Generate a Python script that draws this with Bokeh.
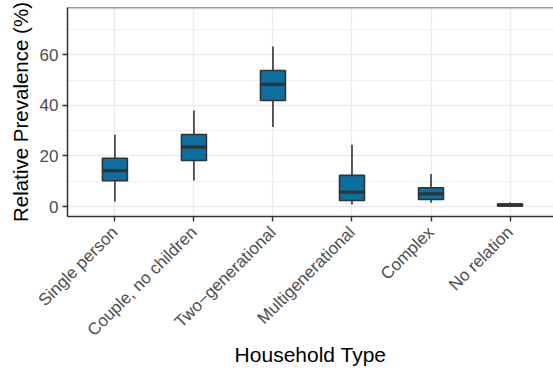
from bokeh.plotting import figure
from bokeh.models import Range1d, FixedTicker, Span
from bokeh.embed import file_html
from bokeh.resources import INLINE
import math

# Household types and box-plot statistics of relative prevalence (%)
categories = ["Single person", "Couple, no children", "Two\u2212generational",
              "Multigenerational", "Complex", "No relation"]
whisker_low = [2.0, 10.3, 31.4, 0.8, 1.5, 0.0]
q1 = [10.2, 18.2, 41.9, 2.4, 2.8, 0.2]
median = [14.2, 23.5, 48.3, 5.7, 5.0, 0.6]
q3 = [19.1, 28.5, 53.8, 12.3, 7.4, 1.0]
whisker_high = [28.4, 38.0, 63.3, 24.4, 12.9, 1.6]
y_ticks = [0, 20, 40, 60]
y_minor = [10, 30, 50, 70]

FONT = "Liberation Sans"
BORDER = "#333333"
FILL = "#0b6f9f"
GRID = "#ebebeb"
BOX_W = 0.316

xs = list(range(1, len(categories) + 1))
y_start, y_end = -3.95, 78.7

p = figure(width=553, height=371, output_backend="svg", toolbar_location=None,
           x_range=Range1d(0.4, 6.55), y_range=Range1d(y_start, y_end),
           min_border_left=67, min_border_right=0, min_border_top=7,
           min_border_bottom=155)
p.outline_line_color = None
p.background_fill_color = "white"
p.border_fill_color = "white"

# grids
p.xgrid.ticker = FixedTicker(ticks=xs)
p.xgrid.grid_line_color = GRID
p.xgrid.grid_line_width = 1.4
p.ygrid.ticker = FixedTicker(ticks=y_ticks, minor_ticks=y_minor)
p.ygrid.grid_line_color = GRID
p.ygrid.grid_line_width = 1.4
p.ygrid.minor_grid_line_color = GRID
p.ygrid.minor_grid_line_width = 0.8

# axes
p.xaxis.ticker = FixedTicker(ticks=xs)
p.xaxis.major_label_overrides = {x: c for x, c in zip(xs, categories)}
p.xaxis.major_label_orientation = math.pi / 4
p.yaxis.ticker = FixedTicker(ticks=y_ticks, minor_ticks=[])
p.xaxis.axis_label = "Household Type"
p.yaxis.axis_label = "Relative Prevalence (%)"
for ax in (p.xaxis, p.yaxis):
    ax.axis_line_color = BORDER
    ax.axis_line_width = 1.5
    ax.major_tick_line_color = BORDER
    ax.major_tick_line_width = 1.4
    ax.major_tick_in = 0
    ax.major_tick_out = 5
    ax.minor_tick_line_color = None
    ax.major_label_text_font = FONT
    ax.major_label_text_font_size = "17px"
    ax.major_label_text_color = "#4d4d4d"
    ax.axis_label_text_font = FONT
    ax.axis_label_text_font_style = "normal"
    ax.axis_label_text_color = "black"
p.xaxis.axis_label_text_font_size = "21px"
p.yaxis.axis_label_text_font_size = "20.5px"
p.xaxis.major_label_standoff = 8
p.yaxis.major_label_standoff = 4
p.xaxis.axis_label_standoff = -7
p.yaxis.axis_label_standoff = 5

# top border of the panel
p.add_layout(Span(location=y_end, dimension="width", line_color=BORDER, line_width=1.5))

# whiskers
p.segment(x0=xs, y0=q3, x1=xs, y1=whisker_high, line_color=BORDER, line_width=1.6)
p.segment(x0=xs, y0=q1, x1=xs, y1=whisker_low, line_color=BORDER, line_width=1.6)
# boxes
p.vbar(x=xs, width=BOX_W, bottom=q1, top=q3, fill_color=FILL,
       line_color=BORDER, line_width=1.6)
# medians
p.segment(x0=[x - BOX_W / 2 for x in xs], y0=median,
          x1=[x + BOX_W / 2 for x in xs], y1=median,
          line_color=BORDER, line_width=3.4)

open("out.html", "w").write(file_html(p, INLINE))
